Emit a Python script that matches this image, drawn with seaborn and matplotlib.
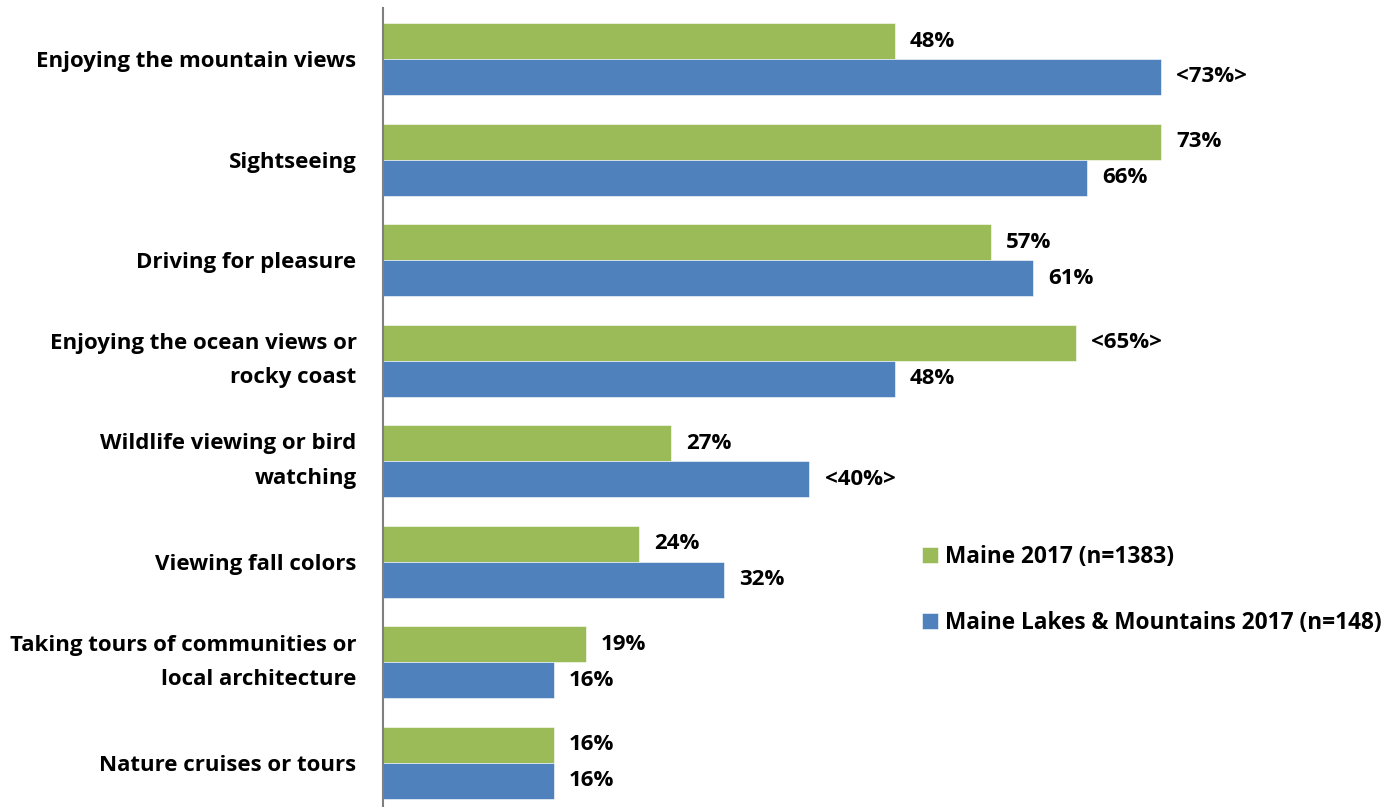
import matplotlib
matplotlib.use("Agg")
import matplotlib.pyplot as plt
import seaborn as sns
import pandas as pd

categories = [
    "Enjoying the mountain views",
    "Sightseeing",
    "Driving for pleasure",
    "Enjoying the ocean views or\nrocky coast",
    "Wildlife viewing or bird\nwatching",
    "Viewing fall colors",
    "Taking tours of communities or\nlocal architecture",
    "Nature cruises or tours",
]
series_names = ["Maine 2017 (n=1383)", "Maine Lakes & Mountains 2017 (n=148)"]
maine = [48, 73, 57, 65, 27, 24, 19, 16]
lakes = [73, 66, 61, 48, 40, 32, 16, 16]
maine_labels = ["48%", "73%", "57%", "<65%>", "27%", "24%", "19%", "16%"]
lakes_labels = ["<73%>", "66%", "61%", "48%", "<40%>", "32%", "16%", "16%"]
colors = ["#9BBB59", "#4F81BD"]

df = pd.DataFrame({
    "activity": categories * 2,
    "pct": maine + lakes,
    "group": [series_names[0]] * len(categories) + [series_names[1]] * len(categories),
})

sns.set_theme(style="white")
plt.rcParams["font.family"] = ["Open Sans", "DejaVu Sans"]
plt.rcParams["font.weight"] = "bold"
plt.rcParams["text.color"] = "black"
plt.rcParams["ytick.color"] = "black"
plt.rcParams["ytick.labelcolor"] = "black"
FS = 16

fig = plt.figure(figsize=(13.93, 8.07), dpi=100)
ax = fig.add_axes([383 / 1393, 0.0, (1385 - 383) / 1393, (807 - 8) / 807])

sns.barplot(data=df, y="activity", x="pct", hue="group", hue_order=series_names,
            palette=colors, orient="h", width=0.715, gap=0, saturation=1,
            edgecolor="white", linewidth=0.4, ax=ax)

for cont, labs in zip(ax.containers, [maine_labels, lakes_labels]):
    ax.bar_label(cont, labels=labs, padding=11, fontsize=FS, fontweight="bold",
                 color="black")

ax.set_xlim(0, (1385 - 383) / 10.66)
ax.set_ylim(7.438, -0.507)
ax.set_xlabel("")
ax.set_ylabel("")
ax.set_xticks([])
ax.tick_params(axis="y", length=0, pad=19)
for lab in ax.get_yticklabels():
    lab.set_fontsize(FS)
    lab.set_fontweight("bold")
    lab.set_color("black")
    if "\n" in lab.get_text():
        lab.set_linespacing(1.85)
        lab.set_verticalalignment("center")

for side in ["top", "right", "bottom"]:
    ax.spines[side].set_visible(False)
ax.spines["left"].set_color("#7F7F7F")
ax.spines["left"].set_linewidth(1.5)

leg = ax.legend(loc="upper left", bbox_to_anchor=(922 / 1393, 1 - 545 / 807),
                bbox_transform=fig.transFigure, frameon=False, fontsize=16.3,
                handlelength=0.7, handleheight=0.7, handletextpad=0.3,
                labelspacing=1.85, borderaxespad=0, borderpad=0)
for t in leg.get_texts():
    t.set_fontweight("bold")
    t.set_color("black")

fig.savefig("out.png", dpi=100)
